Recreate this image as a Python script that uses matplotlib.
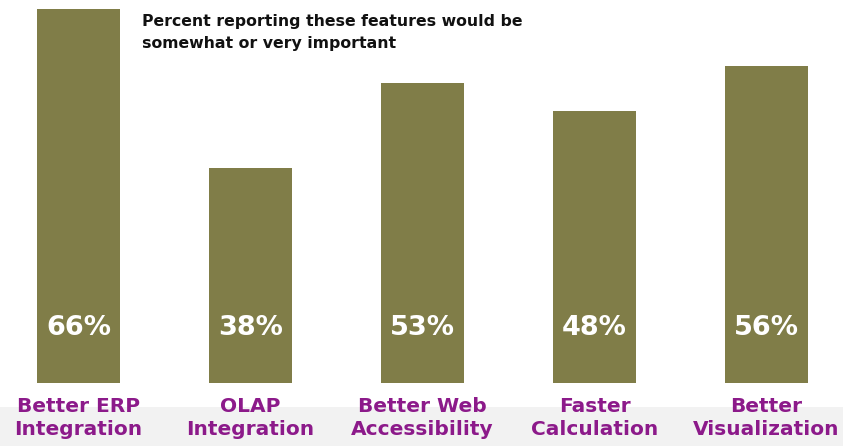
import matplotlib
matplotlib.use("Agg")
import matplotlib.pyplot as plt
from matplotlib.patches import Rectangle

categories = ["Better ERP\nIntegration", "OLAP\nIntegration", "Better Web\nAccessibility",
              "Faster\nCalculation", "Better\nVisualization"]
values = [66, 38, 53, 48, 56]

bar_color = "#807d48"
label_color = "#8c1a8a"

fig = plt.figure(figsize=(8.43, 4.46), dpi=100)
fig.patch.set_facecolor("white")
# light grey strip at the bottom
fig.patches.append(Rectangle((0, 0), 1, 39 / 446, transform=fig.transFigure,
                             facecolor="#f2f2f2", edgecolor="none", zorder=-10))

ax = fig.add_axes([0, 63 / 446, 1, 383 / 446])
ax.set_facecolor("none")
x = list(range(len(values)))
ax.bar(x, values, width=83 / 172, color=bar_color)
ax.set_xlim(-78.5 / 172, -78.5 / 172 + 843 / 172)
ax.set_ylim(0, 383 / 5.66)
ax.axis("off")

for xi, v in zip(x, values):
    ax.text(xi, 9.7, f"{v}%", ha="center", va="center", color="white",
            fontsize=19.5, fontweight="bold", family="DejaVu Sans")

for xi, c in zip(x, categories):
    t = ax.text(xi, -2.4, c, ha="center", va="top", color=label_color,
                fontsize=14.5, fontweight="bold", family="DejaVu Sans", linespacing=1.3)
    t.set_clip_on(False)

fig.text(142 / 843, 1 - 14 / 446, "Percent reporting these features would be\nsomewhat or very important",
         ha="left", va="top", fontsize=11.3, fontweight="bold", family="DejaVu Sans",
         color="#111111", linespacing=1.6)

fig.savefig("out.png", dpi=100)
